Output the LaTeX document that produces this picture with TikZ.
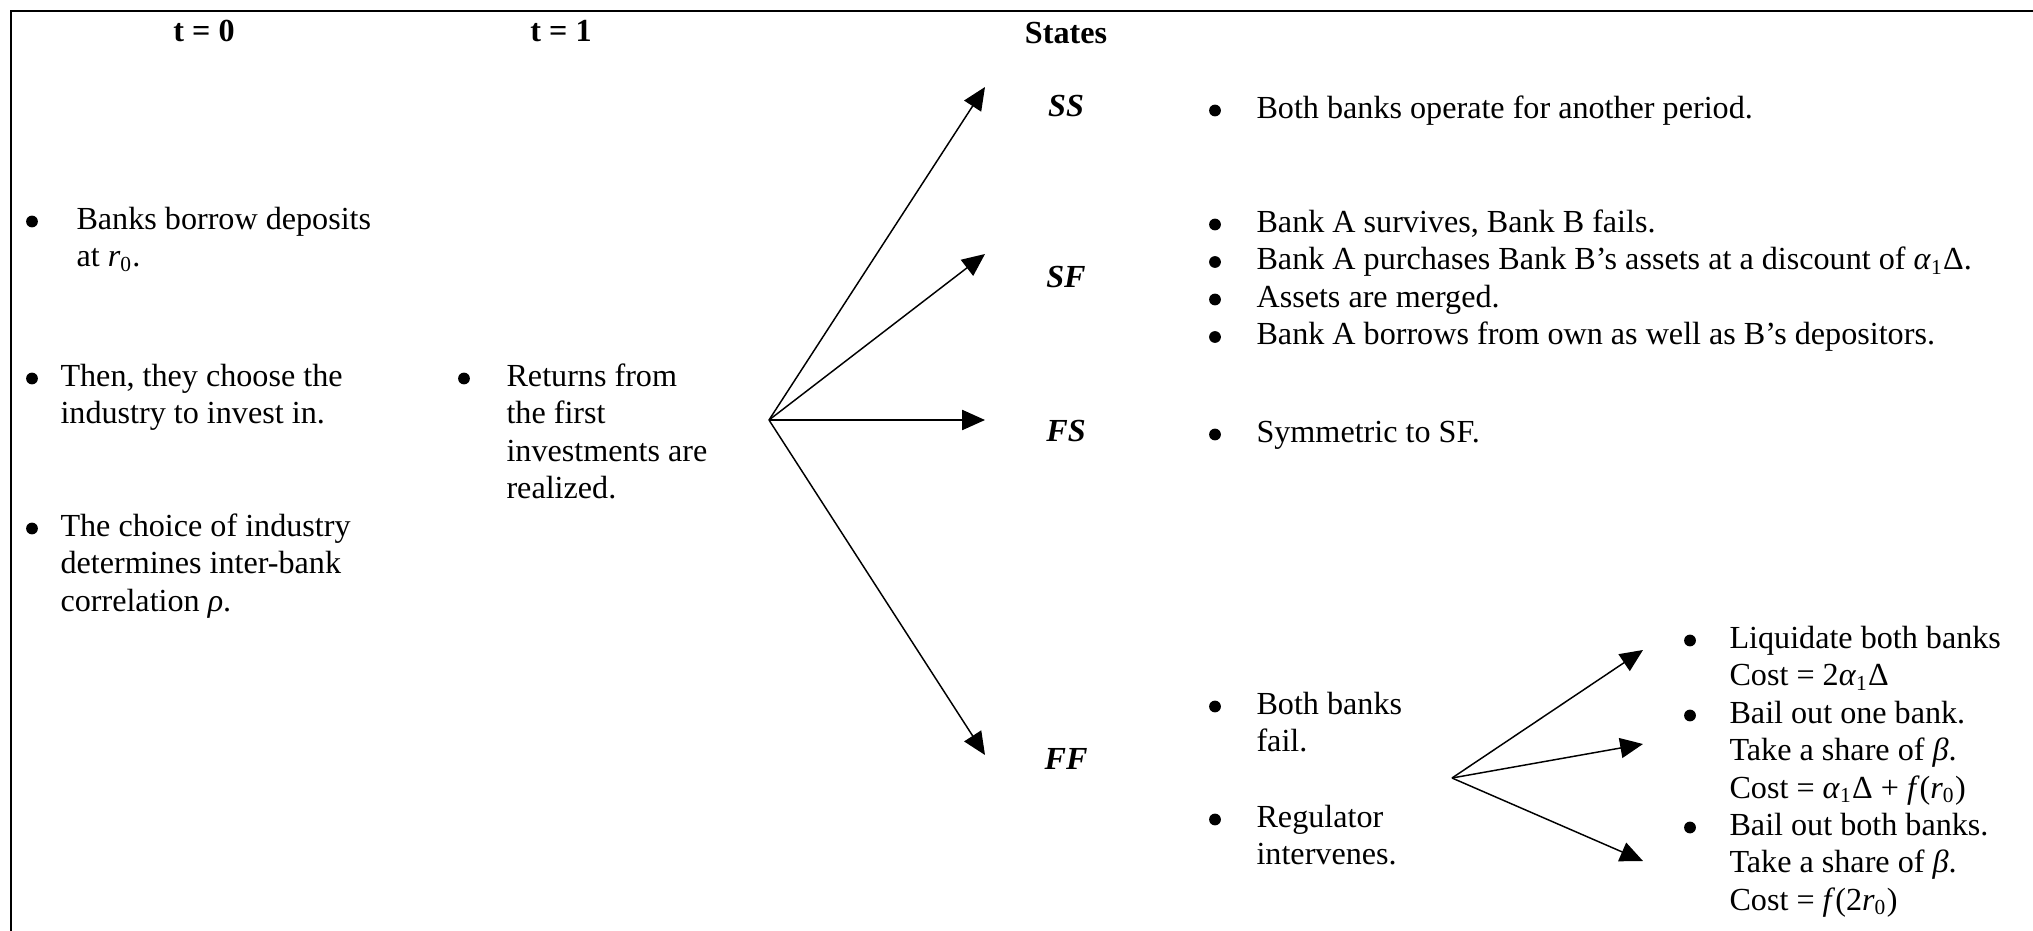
\documentclass[tikz,border=0pt]{standalone}
\usepackage{fontspec}
\setmainfont{Liberation Serif}
\usetikzlibrary{arrows.meta}
% lines of one bullet, aligned on the first baseline
\newcommand{\blk}[1]{\begin{tabular}[t]{@{}l@{}}#1\end{tabular}}

\begin{document}
\begin{tikzpicture}[x=0.3733pt,y=-0.3733pt,
  txt/.style={inner sep=0pt,anchor=base west,font=\fontsize{12}{14}\selectfont},
  bul/.style={circle,fill,inner sep=0pt,minimum size=4.4pt,yshift=2.8pt},
  hd/.style={inner sep=0pt,anchor=base,font=\fontsize{12}{14}\selectfont\bfseries},
  st/.style={inner sep=0pt,anchor=base,font=\fontsize{12}{14}\selectfont\bfseries\itshape},
  arr/.style={-{Triangle[length=8.5pt,width=7.5pt]},line width=0.55pt}]
\useasboundingbox (0,0) rectangle (2033,931);
\draw[line width=1pt] (2033,11) -- (11,11) -- (11,931);

% headings
\node[hd] (t0) at (204,41) {t = 0};
\node[hd] (t1) at (561,41) {t = 1};
\node[hd] (states) at (1066,44) {States};

% t = 0
\node[bul] (b01) at (32,229) {};
\node[txt] (borrow) at (76,229) {\blk{Banks borrow deposits\\at \textit{r}\textsubscript{0}.}};
\node[bul] (b02) at (32,386) {};
\node[txt] (choose) at (60,386) {\blk{Then, they choose the\\industry to invest in.}};
\node[bul] (b03) at (32,536) {};
\node[txt] (choice) at (60,536) {\blk{The choice of industry\\determines inter-bank\\correlation \textit{ρ}.}};

% t = 1
\node[bul] (b11) at (464,386) {};
\node[txt] (returns) at (506,386) {\blk{Returns from\\the first\\investments are\\realized.}};

% states
\node[st] (SS) at (1066,116) {SS};
\node[st] (SF) at (1066,287) {SF};
\node[st] (FS) at (1066,441) {FS};
\node[st] (FF) at (1066,769) {FF};

\coordinate (fan) at (769,420);
\coordinate (toSS) at (985,87);
\coordinate (toSF) at (985,254);
\coordinate (toFS) at (985,420);
\coordinate (toFF) at (985,755);
\foreach \s in {SS,SF,FS,FF}
  \draw[arr] (fan) -- (to\s);

% what happens in each state
\node[bul] (bSS) at (1215,118) {};
\node[txt] (operate) at (1256,118) {Both banks operate for another period.};
\foreach \y in {232,269.5,307,344.5}
  \node[bul] at (1215,\y) {};
\node[txt] (merge) at (1256,232) {\blk{Bank A survives, Bank B fails.\\
  Bank A purchases Bank B’s assets at a discount of \textit{α}\textsubscript{1}Δ.\\
  Assets are merged.\\
  Bank A borrows from own as well as B’s depositors.}};
\node[bul] (bFS) at (1215,442) {};
\node[txt] (sym) at (1256,442) {Symmetric to SF.};
\node[bul] (bFF1) at (1215,714) {};
\node[txt] (fail) at (1256,714) {\blk{Both banks\\fail.}};
\node[bul] (bFF2) at (1215,827) {};
\node[txt] (reg) at (1256,827) {\blk{Regulator\\intervenes.}};

% options of the regulator
\coordinate (fan2) at (1452,778);
\coordinate (toLiq) at (1643,650);
\coordinate (toOne) at (1643,744);
\coordinate (toBoth) at (1643,861);
\foreach \o in {Liq,One,Both}
  \draw[arr] (fan2) -- (to\o);

\node[bul] (bo1) at (1690,648) {};
\node[txt] (liq) at (1729,648) {\blk{Liquidate both banks\\Cost = 2\textit{α}\textsubscript{1}Δ}};
\node[bul] (bo2) at (1690,723) {};
\node[txt] (one) at (1729,723) {\blk{Bail out one bank.\\Take a share of \textit{β}.\\Cost = \textit{α}\textsubscript{1}Δ + \textit{f}(\textit{r}\textsubscript{0})}};
\node[bul] (bo3) at (1690,835) {};
\node[txt] (both) at (1729,835) {\blk{Bail out both banks.\\Take a share of \textit{β}.\\Cost = \textit{f}(2\textit{r}\textsubscript{0})}};
\end{tikzpicture}
\end{document}
